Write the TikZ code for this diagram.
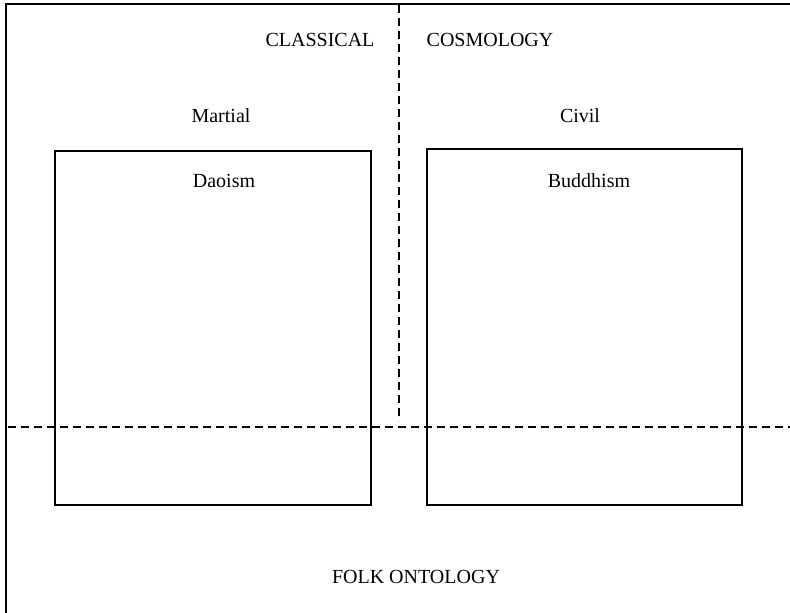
\documentclass[tikz,border=0pt]{standalone}
\usepackage{fontspec}
\setmainfont{Liberation Serif}
\usetikzlibrary{positioning}

\begin{document}
\begin{tikzpicture}[x=1pt, y=-1pt,
    frameline/.style={line width=2pt},
    divider/.style={line width=1.8pt, dash pattern=on 8pt off 5pt},
    panel/.style={draw, line width=1.8pt, inner sep=0pt},
    lbl/.style={font=\fontsize{20}{24}\selectfont, inner sep=1pt}]
    \useasboundingbox (0,0) rectangle (790,613);

    % outer frame (top and left only)
    \coordinate (tl) at (6,4);
    \coordinate (tr) at (790,4);
    \coordinate (bl) at (6,613);
    \draw[frameline] (tr) -- (tl) -- (bl);

    % the two panels
    \node[panel, minimum width=316pt, minimum height=354pt] (daobox) at (213,328) {};
    \node[panel, minimum width=315pt, minimum height=356pt] (budbox) at (584.5,327) {};

    % dividers
    \coordinate (vtop) at (399,5);
    \coordinate (vbot) at (399,421);
    \coordinate (hleft) at (8,427);
    \coordinate (hright) at (790,427);
    \draw[divider] (vtop) -- (vbot);
    \draw[divider] (hleft) -- (hright);

    \node[lbl] (classical) at (320,40) {CLASSICAL};
    \node[lbl] (cosmology) at (490,40) {COSMOLOGY};
    \node[lbl] (martial) at (221,116) {Martial};
    \node[lbl] (civil) at (580,116) {Civil};
    \node[lbl] (daoism) at (224,181) {Daoism};
    \node[lbl] (buddhism) at (589,181) {Buddhism};
    \node[lbl] (folk) at (416,577) {FOLK ONTOLOGY};
\end{tikzpicture}
\end{document}
